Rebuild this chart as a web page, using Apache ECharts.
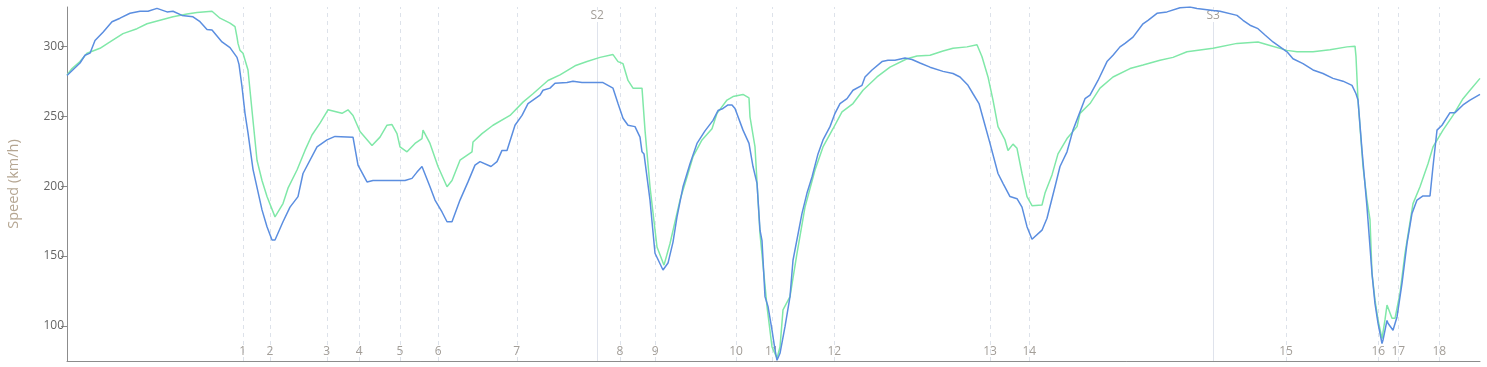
<!DOCTYPE html>
<html>
<head>
<meta charset="utf-8">
<script src="https://cdn.jsdelivr.net/npm/echarts@6/dist/echarts.min.js"></script>
<style>
html,body{margin:0;padding:0;background:#fff;}
#chart{width:1487px;height:367px;}
</style>
</head>
<body>
<div id="chart"></div>
<script>
// Distance along lap (m) and speed (km/h)
const blueDist = [0,52,72,92,112,144,180,212,252,292,324,360,400,424,460,504,532,560,580,620,652,680,688,700,712,724,744,780,800,820,832,864,892,924,944,1000,1040,1072,1144,1164,1200,1224,1352,1380,1400,1420,1452,1472,1500,1520,1540,1572,1604,1632,1652,1696,1720,1740,1760,1792,1820,1844,1892,1904,1932,1952,2000,2024,2060,2144,2184,2204,2224,2244,2272,2292,2300,2308,2332,2352,2384,2404,2424,2440,2464,2492,2520,2552,2584,2604,2624,2644,2660,2672,2704,2728,2744,2760,2772,2780,2792,2804,2820,2832,2840,2852,2872,2892,2904,2940,2960,2980,3004,3024,3052,3072,3092,3120,3144,3180,3192,3220,3260,3284,3312,3352,3380,3412,3452,3504,3544,3572,3604,3624,3648,3672,3692,3724,3744,3772,3800,3820,3840,3860,3900,3920,3952,3972,4000,4024,4072,4092,4124,4160,4184,4212,4232,4264,4304,4324,4360,4400,4452,4492,4520,4584,4612,4680,4704,4732,4764,4792,4824,4852,4880,4904,4944,4984,5024,5064,5104,5140,5156,5164,5180,5200,5220,5232,5244,5260,5264,5280,5284,5304,5320,5340,5360,5380,5400,5424,5452,5464,5480,5500,5532,5552,5584,5612,5652];
const blueSpeed = [279,288,293.5,295,304,310,317.5,320,323.5,325,325,327,324.5,325,322,321,317.5,312,311.5,303,299,292,287,271,252,238,212,183,171,161.5,161.5,174.5,185,192.5,209,228,233,235.5,235,215,203,204,204,205.5,210,214,199.5,190,181.5,174.5,174.5,190,203,215,217.5,214,217.5,225.5,225.5,243.5,250.5,259,265,268.5,270,273.5,274,275,274,274,270,259,248.5,243.5,242.5,235,224.5,223,190,152,140,145,160,178,199.5,216,230.5,239.5,247,254,255.5,258,258,255.5,240,230.5,214,202,168.5,161,121,114,97,83,75.5,80.5,99.5,121,147,180.5,195,206.5,223,233,242.5,252,259,262.5,268.5,272,278,283,289,290,290,291.5,290.5,288,285,282,280.5,278,272,266,259,243.5,230.5,209,202,192.5,191,185,171,162,168.5,177,199.5,214,224.5,240,262.5,265,275.5,289,293.5,299.5,302,306.5,316,318.5,323.5,324.5,327.5,328,327,325.5,325,322,318.5,315,312.5,308,303,299.5,296,291,287.5,283,280.5,277,275,272,266,261.5,225.5,185,137.5,116,102,87.5,90,104,102,97,106.5,130.5,159,180.5,190,193,193,214,240,243.5,252.5,252.5,258,261.5,265.5];
const greenDist = [0,20,52,80,132,172,224,280,320,372,424,480,520,580,612,652,672,680,684,692,704,724,740,760,780,800,832,864,884,920,952,980,1012,1044,1100,1124,1144,1172,1220,1252,1280,1300,1320,1332,1360,1392,1420,1424,1452,1484,1520,1540,1572,1620,1624,1660,1704,1772,1824,1864,1924,1972,2032,2080,2132,2184,2204,2224,2244,2264,2300,2312,2332,2360,2388,2412,2452,2480,2504,2540,2580,2600,2640,2664,2704,2728,2732,2752,2772,2800,2820,2840,2852,2864,2892,2920,2952,2992,3024,3064,3100,3144,3184,3240,3292,3360,3400,3452,3504,3544,3600,3640,3660,3684,3704,3724,3752,3764,3784,3800,3820,3840,3860,3900,3912,3940,3964,4000,4040,4052,4092,4132,4184,4252,4304,4372,4424,4480,4584,4680,4764,4812,4880,4920,4984,5052,5120,5152,5156,5164,5184,5200,5212,5220,5232,5244,5260,5272,5280,5288,5300,5312,5332,5352,5384,5412,5444,5464,5504,5544,5584,5612,5652];
const greenSpeed = [279.5,284,289,295,298.5,303,309,312.5,316,318.5,321,323,324,325,320,316.5,314,306.5,302,297,295,283,254,218.5,204,192.5,178,187.5,198.5,211.5,225.5,236.5,245,254.5,252,254.5,250.5,239,229,235,243.5,244,237.5,228,224.5,230.5,234,240,230.5,214,199.5,204,218.5,224.5,231.5,237.5,243.5,250.5,260,266,275.5,279.5,286,289,292,294,289,287.5,275.5,270,270,240,199.5,156.5,143.5,159,190,206.5,221,233,241,252,261.5,264,265.5,263,249.5,228,166,114,85,77,85,111.5,121,152,185,211.5,228,241,253,259,268.5,278,285,291,293,293.5,296.5,298.5,299.5,301,292.5,278,261.5,242.5,233,225.5,230,227,209,192.5,186,186.5,195,208,223,234,242.5,252,259,270,278,284,286.5,290,292,296,298.5,302,303,300.5,297,296,296,297.5,299.5,300,292.5,261.5,214,190,176,137.5,118.5,104.5,91,104.5,115,115,105.5,105.5,123.5,152,187.5,199.5,216,228,240,250.5,262.5,268.5,277];
const cornerNames = ['1','2','3','4','5','6','7','8','9','10','11','12','13','14','15','16','17','18'];
const cornerDist = [703,812,1039,1169,1332,1485,1799,2212,2353,2676,2819,3069,3692,3849,4876,5245,5325,5489];
const sectorNames = ['S2','S3'];
const sectorDist = [2121,4585];
const yTicks = [100,150,200,250,300];
const lapLength = 5652;
const speedMin = 75, speedMax = 328;

const zip = (a, b) => a.map((v, i) => [v, b[i]]);
const chart = echarts.init(document.getElementById('chart'));
const font = "'Open Sans', 'DejaVu Sans', sans-serif";

chart.setOption({
  animation: false,
  grid: { left: 67, right: 7, top: 7, bottom: 6, containLabel: false, outerBoundsMode: 'none' },
  xAxis: {
    type: 'value', min: 0, max: lapLength,
    axisLine: { show: true, lineStyle: { color: '#8c8c8c', width: 1 } },
    axisTick: { show: false }, axisLabel: { show: false }, splitLine: { show: false }
  },
  yAxis: {
    type: 'value', min: speedMin, max: speedMax,
    name: 'Speed (km/h)', nameLocation: 'middle', nameGap: 46,
    nameTextStyle: { color: '#b5a692', fontSize: 14.5, fontFamily: font },
    axisLine: { show: true, lineStyle: { color: '#8c8c8c', width: 1 } },
    axisTick: { show: true, length: 6, customValues: yTicks, lineStyle: { color: '#8c8c8c' } },
    axisLabel: { customValues: yTicks, color: '#666', fontSize: 12, fontFamily: font, margin: 3 },
    splitLine: { show: false }
  },
  series: [
    {
      type: 'line', data: zip(greenDist, greenSpeed), showSymbol: false, symbol: 'none',
      lineStyle: { color: '#80e8a8', width: 1.5 }, z: 2,
      markLine: {
        silent: true, symbol: 'none', z: 1, animation: false,
        lineStyle: { color: '#dde2ea', type: [4, 4], width: 1 },
        label: { show: true, position: 'start', distance: -15, color: '#a39e98', fontSize: 12, fontFamily: font, formatter: p => p.name },
        data: cornerDist.map((d, i) => ({ name: cornerNames[i], xAxis: d }))
      }
    },
    {
      type: 'line', data: zip(blueDist, blueSpeed), showSymbol: false, symbol: 'none',
      lineStyle: { color: '#5b8ee0', width: 1.5 }, z: 3,
      markLine: {
        silent: true, symbol: 'none', z: 1, animation: false,
        lineStyle: { color: '#dfe3ec', type: 'solid', width: 1 },
        label: { show: true, position: 'end', distance: -15, color: '#a39e98', fontSize: 12, fontFamily: font,
                 backgroundColor: '#fff', padding: [0, 1], formatter: p => p.name },
        data: sectorDist.map((d, i) => ({ name: sectorNames[i], xAxis: d }))
      }
    }
  ]
});
</script>
</body>
</html>
